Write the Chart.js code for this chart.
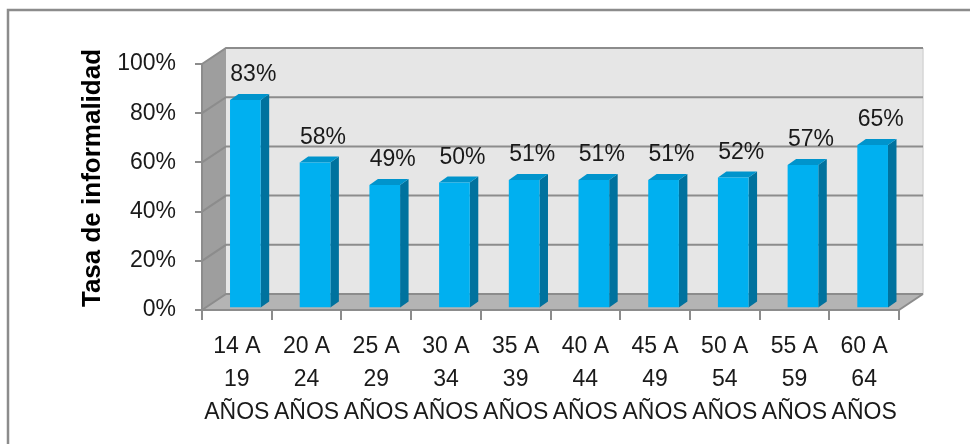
<!DOCTYPE html>
<html>
<head>
<meta charset="utf-8">
<script src="https://cdn.jsdelivr.net/npm/chart.js@4.4.1/dist/chart.umd.min.js"></script>
<style>
  html, body { margin: 0; padding: 0; background: #fff; }
  #wrap { width: 970px; height: 444px; }
</style>
</head>
<body>
<div id="wrap"><canvas id="informalidad" width="970" height="444"></canvas></div>
<script>
// datos
const edades = [
  ['14 A', '19', 'AÑOS'], ['20 A', '24', 'AÑOS'], ['25 A', '29', 'AÑOS'],
  ['30 A', '34', 'AÑOS'], ['35 A', '39', 'AÑOS'], ['40 A', '44', 'AÑOS'],
  ['45 A', '49', 'AÑOS'], ['50 A', '54', 'AÑOS'], ['55 A', '59', 'AÑOS'],
  ['60 A', '64', 'AÑOS']
];
const tasas = [0.83, 0.58, 0.49, 0.50, 0.51, 0.51, 0.51, 0.52, 0.57, 0.65];
const ticksY = [0, 0.2, 0.4, 0.6, 0.8, 1];

const FONT = 'Liberation Sans';
const GRIS = '#8c8c8c';

// profundidad de las paredes y de las barras (efecto 3D)
const depth = { dx: 24, dy: -16 };
const barDepth = { dx: 8.5, dy: -6 };
const barShift = { dx: 8.5, dy: -2.5 };

const wallsPlugin = {
  id: 'walls3d',
  beforeDraw(chart) {
    const ctx = chart.ctx;
    const a = chart.chartArea;
    const y = chart.scales.y;
    const L = a.left, R = a.right, T = a.top, B = a.bottom;

    ctx.save();
    // marco exterior
    ctx.strokeStyle = GRIS;
    ctx.lineWidth = 2.5;
    ctx.beginPath();
    ctx.moveTo(8, 460);
    ctx.lineTo(8, 10);
    ctx.lineTo(980, 10);
    ctx.stroke();

    // pared del fondo
    ctx.fillStyle = '#e6e6e6';
    ctx.fillRect(L + depth.dx, T + depth.dy, R - L, B - T);
    ctx.strokeStyle = '#d6d6d6';
    ctx.lineWidth = 1.5;
    ctx.beginPath();
    ctx.moveTo(R + depth.dx, T + depth.dy);
    ctx.lineTo(R + depth.dx, B + depth.dy);
    ctx.stroke();

    // pared lateral
    ctx.fillStyle = '#9e9e9e';
    ctx.beginPath();
    ctx.moveTo(L, T);
    ctx.lineTo(L + depth.dx, T + depth.dy);
    ctx.lineTo(L + depth.dx, B + depth.dy);
    ctx.lineTo(L, B);
    ctx.closePath();
    ctx.fill();

    // piso
    ctx.fillStyle = '#b4b4b4';
    ctx.beginPath();
    ctx.moveTo(L, B);
    ctx.lineTo(L + depth.dx, B + depth.dy);
    ctx.lineTo(R + depth.dx, B + depth.dy);
    ctx.lineTo(R, B);
    ctx.closePath();
    ctx.fill();
    ctx.strokeStyle = GRIS;
    ctx.lineWidth = 2;
    ctx.beginPath();
    ctx.moveTo(R, B);
    ctx.lineTo(R + depth.dx, B + depth.dy);
    ctx.stroke();

    // lineas de division en fondo y pared lateral
    ctx.strokeStyle = GRIS;
    ctx.lineWidth = 2;
    ticksY.forEach(v => {
      const py = y.getPixelForValue(v);
      ctx.beginPath();
      ctx.moveTo(L, py);
      ctx.lineTo(L + depth.dx, py + depth.dy);
      ctx.lineTo(R + depth.dx, py + depth.dy);
      ctx.stroke();
    });
    ctx.restore();
  },
  beforeDatasetsDraw(chart) {
    const ctx = chart.ctx;
    ctx.save();
    ctx.translate(barShift.dx, barShift.dy);
    const meta = chart.getDatasetMeta(0);
    meta.data.forEach(bar => {
      const p = bar.getProps(['x', 'y', 'base', 'width'], true);
      const x0 = p.x - p.width / 2, x1 = p.x + p.width / 2;
      // cara lateral
      ctx.fillStyle = '#00729e';
      ctx.beginPath();
      ctx.moveTo(x1, p.y);
      ctx.lineTo(x1 + barDepth.dx, p.y + barDepth.dy);
      ctx.lineTo(x1 + barDepth.dx, p.base + barDepth.dy);
      ctx.lineTo(x1, p.base);
      ctx.closePath();
      ctx.fill();
      // cara superior
      ctx.fillStyle = '#0094cc';
      ctx.beginPath();
      ctx.moveTo(x0, p.y);
      ctx.lineTo(x0 + barDepth.dx, p.y + barDepth.dy);
      ctx.lineTo(x1 + barDepth.dx, p.y + barDepth.dy);
      ctx.lineTo(x1, p.y);
      ctx.closePath();
      ctx.fill();
    });
  },
  afterDatasetsDraw(chart) {
    const ctx = chart.ctx;
    ctx.restore();

    // etiquetas de valor
    ctx.save();
    ctx.fillStyle = '#1a1a1a';
    ctx.font = '23px "' + FONT + '"';
    ctx.textAlign = 'center';
    ctx.textBaseline = 'middle';
    const meta = chart.getDatasetMeta(0);
    meta.data.forEach((bar, i) => {
      ctx.fillText(Math.round(tasas[i] * 100) + '%', bar.x + barShift.dx + 8, bar.y + barShift.dy - 25);
    });

    // titulo del eje
    ctx.translate(93, 178);
    ctx.rotate(-Math.PI / 2);
    ctx.font = 'bold 26px "' + FONT + '"';
    ctx.fillStyle = '#000';
    ctx.fillText('Tasa de informalidad', 0, 0);
    ctx.restore();
  }
};

new Chart(document.getElementById('informalidad'), {
  type: 'bar',
  data: {
    labels: edades,
    datasets: [{
      data: tasas,
      yAxisID: 'y2',
      backgroundColor: '#00b0f0',
      borderWidth: 0,
      barPercentage: 0.44,
      categoryPercentage: 1
    }]
  },
  options: {
    responsive: false,
    animation: false,
    events: [],
    layout: { padding: { top: 64, right: 71, left: 0, bottom: 0 } },
    plugins: { legend: { display: false }, tooltip: { enabled: false } },
    scales: {
      x: {
        offset: true,
        grid: { offset: true, drawOnChartArea: false, tickLength: 10, color: GRIS, lineWidth: 2 },
        border: { display: true, color: GRIS, width: 2 },
        ticks: {
          color: '#1a1a1a',
          font: { family: FONT, size: 23, lineHeight: 1.43 },
          padding: 10,
          maxRotation: 0,
          autoSkip: false
        },
        afterFit: s => { s.height = 134; }
      },
      y: {
        min: 0,
        max: 1,
        grid: { drawOnChartArea: false, tickLength: 7, color: GRIS, lineWidth: 2 },
        border: { display: true, color: GRIS, width: 2 },
        ticks: {
          stepSize: 0.2,
          color: '#1a1a1a',
          font: { family: FONT, size: 23 },
          padding: 19,
          callback: v => Math.round(v * 100) + '%'
        },
        afterFit: s => { s.width = 202; }
      },
      y2: {
        display: false,
        min: 0,
        max: 0.984
      }
    }
  },
  plugins: [wallsPlugin]
});
</script>
</body>
</html>
